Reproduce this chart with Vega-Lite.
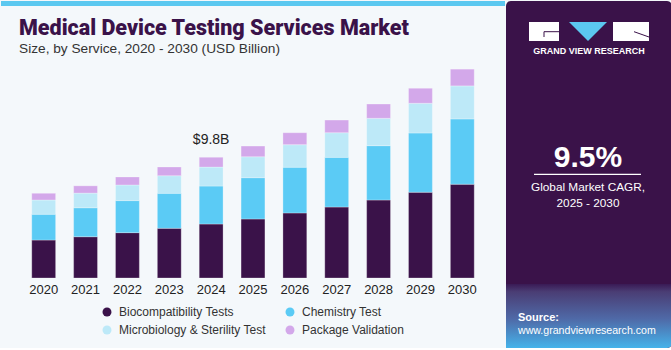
{
  "$schema": "https://vega.github.io/schema/vega-lite/v6.json",
  "padding": 0,
  "background": "#F4F8FB",
  "spacing": 1,
  "resolve": {"scale": {"color": "independent"}, "legend": {"color": "independent"}},
  "config": {
    "view": {"stroke": null},
    "font": "Liberation Sans",
    "text": {"font": "Liberation Sans"}
  },
  "hconcat": [
    {
      "spacing": 11,
      "resolve": {"scale": {"color": "independent"}, "legend": {"color": "independent"}},
      "vconcat": [
        {
          "width": 504,
          "height": 5,
          "view": {"fill": "#5BC8F0", "stroke": null},
          "data": {"values": [{}]},
          "mark": {"type": "rule", "opacity": 0},
          "encoding": {}
        },
        {
          "width": 504,
          "height": 216,
          "title": {
            "text": "Medical Device Testing Services Market",
            "subtitle": "Size, by Service, 2020 - 2030 (USD Billion)",
            "anchor": "start",
            "frame": "group",
            "dx": 18,
            "font": "Roboto",
            "fontSize": 21.5,
            "letterSpacing": 0.3,
            "fontWeight": 900,
            "color": "#3A1249",
            "subtitleFont": "Liberation Sans",
            "subtitleFontSize": 13.7,
            "subtitleColor": "#333333",
            "subtitlePadding": 3,
            "offset": 6
          },
          "layer": [
            {
              "data": {
                "values": [
                  {"year": "2020", "service": "Biocompatibility Tests", "value": 3.08},
                  {"year": "2020", "service": "Chemistry Test", "value": 2.09},
                  {"year": "2020", "service": "Microbiology & Sterility Test", "value": 1.16},
                  {"year": "2020", "service": "Package Validation", "value": 0.54},
                  {"year": "2021", "service": "Biocompatibility Tests", "value": 3.35},
                  {"year": "2021", "service": "Chemistry Test", "value": 2.35},
                  {"year": "2021", "service": "Microbiology & Sterility Test", "value": 1.19},
                  {"year": "2021", "service": "Package Validation", "value": 0.59},
                  {"year": "2022", "service": "Biocompatibility Tests", "value": 3.68},
                  {"year": "2022", "service": "Chemistry Test", "value": 2.6},
                  {"year": "2022", "service": "Microbiology & Sterility Test", "value": 1.27},
                  {"year": "2022", "service": "Package Validation", "value": 0.65},
                  {"year": "2023", "service": "Biocompatibility Tests", "value": 4.03},
                  {"year": "2023", "service": "Chemistry Test", "value": 2.84},
                  {"year": "2023", "service": "Microbiology & Sterility Test", "value": 1.43},
                  {"year": "2023", "service": "Package Validation", "value": 0.71},
                  {"year": "2024", "service": "Biocompatibility Tests", "value": 4.38},
                  {"year": "2024", "service": "Chemistry Test", "value": 3.08},
                  {"year": "2024", "service": "Microbiology & Sterility Test", "value": 1.54},
                  {"year": "2024", "service": "Package Validation", "value": 0.8},
                  {"year": "2025", "service": "Biocompatibility Tests", "value": 4.79},
                  {"year": "2025", "service": "Chemistry Test", "value": 3.35},
                  {"year": "2025", "service": "Microbiology & Sterility Test", "value": 1.7},
                  {"year": "2025", "service": "Package Validation", "value": 0.87},
                  {"year": "2026", "service": "Biocompatibility Tests", "value": 5.28},
                  {"year": "2026", "service": "Chemistry Test", "value": 3.71},
                  {"year": "2026", "service": "Microbiology & Sterility Test", "value": 1.83},
                  {"year": "2026", "service": "Package Validation", "value": 0.97},
                  {"year": "2027", "service": "Biocompatibility Tests", "value": 5.76},
                  {"year": "2027", "service": "Chemistry Test", "value": 4.03},
                  {"year": "2027", "service": "Microbiology & Sterility Test", "value": 2.0},
                  {"year": "2027", "service": "Package Validation", "value": 1.03},
                  {"year": "2028", "service": "Biocompatibility Tests", "value": 6.33},
                  {"year": "2028", "service": "Chemistry Test", "value": 4.41},
                  {"year": "2028", "service": "Microbiology & Sterility Test", "value": 2.22},
                  {"year": "2028", "service": "Package Validation", "value": 1.16},
                  {"year": "2029", "service": "Biocompatibility Tests", "value": 6.96},
                  {"year": "2029", "service": "Chemistry Test", "value": 4.81},
                  {"year": "2029", "service": "Microbiology & Sterility Test", "value": 2.41},
                  {"year": "2029", "service": "Package Validation", "value": 1.22},
                  {"year": "2030", "service": "Biocompatibility Tests", "value": 7.61},
                  {"year": "2030", "service": "Chemistry Test", "value": 5.3},
                  {"year": "2030", "service": "Microbiology & Sterility Test", "value": 2.68},
                  {"year": "2030", "service": "Package Validation", "value": 1.36}
                ]
              },
              "mark": {"type": "bar", "stroke": "#ffffff", "strokeOpacity": 0.35, "strokeWidth": 0.8},
              "encoding": {
                "x": {
                  "field": "year", "type": "nominal",
                  "scale": {"paddingInner": 0.43, "paddingOuter": 0.735},
                  "axis": {"title": null, "labelAngle": 0, "ticks": false, "domain": false, "labelPadding": 5, "labelFontSize": 13, "labelColor": "#222222", "labelFont": "Liberation Sans"}
                },
                "y": {
                  "field": "value", "type": "quantitative", "stack": "zero",
                  "scale": {"domain": [0, 17.53], "nice": false},
                  "axis": null
                },
                "order": {"field": "service", "type": "ordinal", "sort": "ascending"},
                "color": {
                  "field": "service", "type": "nominal",
                  "scale": {
                    "domain": ["Biocompatibility Tests", "Chemistry Test", "Microbiology & Sterility Test", "Package Validation"],
                    "range": ["#3A1249", "#5BCBF5", "#BDE9F8", "#D3A8EA"]
                  },
                  "legend": {"orient": "none", "legendX": 100, "legendY": 244, "title": null, "columns": 2, "direction": "horizontal", "symbolType": "circle", "symbolSize": 80, "symbolStrokeWidth": 0, "labelFontSize": 12, "labelColor": "#333333", "labelFont": "Liberation Sans", "columnPadding": 18, "rowPadding": 6, "labelOffset": 6}
                }
              }
            },
            {
              "data": {"values": [{"year": "2024", "total": 9.8, "label": "$9.8B"}]},
              "mark": {"type": "text", "fontSize": 14, "color": "#222222", "dy": -13, "baseline": "alphabetic"},
              "encoding": {
                "x": {"field": "year", "type": "nominal"},
                "y": {"field": "total", "type": "quantitative"},
                "text": {"field": "label"}
              }
            }
          ]
        }
      ]
    },
    {
      "width": 166,
      "height": 347,
      "view": {"fill": "#3A1249", "stroke": null, "cornerRadius": 5},
      "data": {"values": [{}]},
      "encoding": {},
      "layer": [
        {
          "mark": {"type": "rect", "color": {"gradient": "linear", "x1": 0, "y1": 0, "x2": 0, "y2": 1, "stops": [{"offset": 0, "color": "#3A1A55"}, {"offset": 0.12, "color": "#4A3D74"}, {"offset": 0.55, "color": "#4F6AA8"}, {"offset": 1, "color": "#45B3EA"}]}, "cornerRadiusBottomRight": 5},
          "encoding": {
            "x": {"datum": 0, "type": "quantitative", "scale": {"domain": [0, 166], "nice": false, "zero": false}, "axis": null},
            "x2": {"datum": 166},
            "y": {"datum": 283, "type": "quantitative", "scale": {"domain": [0, 347], "nice": false, "zero": false, "reverse": true}, "axis": null},
            "y2": {"datum": 347}
          }
        },
        {
          "mark": {"type": "rect", "color": "#FFFFFF"},
          "encoding": {"x": {"datum": 23, "type": "quantitative"}, "x2": {"datum": 53}, "y": {"datum": 21, "type": "quantitative"}, "y2": {"datum": 40}}
        },
        {
          "mark": {"type": "rect", "color": "#FFFFFF"},
          "encoding": {"x": {"datum": 107, "type": "quantitative"}, "x2": {"datum": 143}, "y": {"datum": 21, "type": "quantitative"}, "y2": {"datum": 40}}
        },
        {
          "mark": {"type": "point", "filled": true, "opacity": 1, "color": "#5BC8F0", "shape": "M-1,-0.5L1,-0.5L0,0.5Z", "size": 1444},
          "encoding": {"x": {"datum": 82, "type": "quantitative"}, "y": {"datum": 30.5, "type": "quantitative"}}
        },
        {
          "mark": {"type": "rule", "color": "#3A1249", "strokeWidth": 1},
          "encoding": {"x": {"datum": 38, "type": "quantitative"}, "x2": {"datum": 53}, "y": {"datum": 30.7, "type": "quantitative"}, "y2": {"datum": 30.7}}
        },
        {
          "mark": {"type": "rule", "color": "#3A1249", "strokeWidth": 1},
          "encoding": {"x": {"datum": 38, "type": "quantitative"}, "x2": {"datum": 38}, "y": {"datum": 30.7, "type": "quantitative"}, "y2": {"datum": 36}}
        },
        {
          "mark": {"type": "rule", "color": "#3A1249", "strokeWidth": 1},
          "encoding": {"x": {"datum": 128, "type": "quantitative"}, "x2": {"datum": 143}, "y": {"datum": 30.7, "type": "quantitative"}, "y2": {"datum": 36}}
        },
        {
          "mark": {"type": "text", "text": "GRAND VIEW RESEARCH", "color": "#FFFFFF", "fontSize": 9, "fontWeight": "bold", "letterSpacing": 1.3, "align": "center", "baseline": "alphabetic"},
          "encoding": {"x": {"datum": 83, "type": "quantitative"}, "y": {"datum": 53, "type": "quantitative"}}
        },
        {
          "mark": {"type": "text", "text": "9.5%", "color": "#FFFFFF", "fontSize": 30, "fontWeight": "bold", "align": "center", "baseline": "alphabetic"},
          "encoding": {"x": {"datum": 82, "type": "quantitative"}, "y": {"datum": 166, "type": "quantitative"}}
        },
        {
          "mark": {"type": "rule", "color": "#FFFFFF", "strokeWidth": 1.2},
          "encoding": {"x": {"datum": 28, "type": "quantitative"}, "x2": {"datum": 135}, "y": {"datum": 173.3, "type": "quantitative"}, "y2": {"datum": 173.3}}
        },
        {
          "mark": {"type": "text", "text": "Global Market CAGR,", "color": "#FFFFFF", "fontSize": 11.8, "align": "center", "baseline": "alphabetic"},
          "encoding": {"x": {"datum": 82, "type": "quantitative"}, "y": {"datum": 190, "type": "quantitative"}}
        },
        {
          "mark": {"type": "text", "text": "2025 - 2030", "color": "#FFFFFF", "fontSize": 11.8, "align": "center", "baseline": "alphabetic"},
          "encoding": {"x": {"datum": 82, "type": "quantitative"}, "y": {"datum": 205.5, "type": "quantitative"}}
        },
        {
          "mark": {"type": "text", "text": "Source:", "color": "#FFFFFF", "fontSize": 11, "fontWeight": "bold", "align": "left", "baseline": "alphabetic"},
          "encoding": {"x": {"datum": 12, "type": "quantitative"}, "y": {"datum": 320, "type": "quantitative"}}
        },
        {
          "mark": {"type": "text", "text": "www.grandviewresearch.com", "color": "#FFFFFF", "fontSize": 10.6, "align": "left", "baseline": "alphabetic"},
          "encoding": {"x": {"datum": 12, "type": "quantitative"}, "y": {"datum": 333, "type": "quantitative"}}
        }
      ]
    }
  ]
}
